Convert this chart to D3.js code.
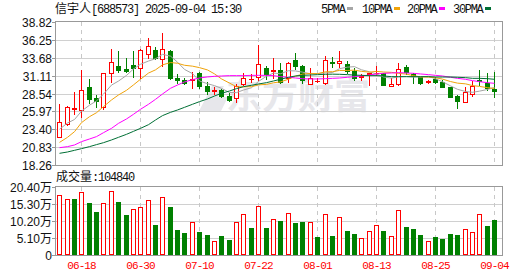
<!DOCTYPE html>
<html><head><meta charset="utf-8">
<script src="https://cdn.jsdelivr.net/npm/d3@7"></script>
<style>body{margin:0;background:#fff}svg{display:block}</style>
</head><body>
<svg id="c" width="530" height="276"></svg>
<script>
const dates = ["06-13","06-16","06-17","06-18","06-19","06-20","06-23","06-24","06-25","06-26",
"06-27","06-30","07-01","07-02","07-03","07-04","07-07","07-08","07-09","07-10",
"07-11","07-14","07-15","07-16","07-17","07-18","07-21","07-22","07-23","07-24",
"07-25","07-28","07-29","07-30","07-31","08-01","08-04","08-05","08-06","08-07",
"08-08","08-11","08-12","08-13","08-14","08-15","08-18","08-19","08-20","08-21",
"08-22","08-25","08-26","08-27","08-28","08-29","09-01","09-02","09-03","09-04"];
const opens = [22.24,24.11,26.27,26.16,29.47,27.89,26.65,31.44,32.45,32.07,
32.64,32.16,34.17,34.8,33.45,34.65,30.82,30.48,30.48,31.44,
29.61,28.95,29.05,28.18,27.84,29.86,30.6,30.86,32.16,31.78,
31.92,30.72,33.36,32.5,29.86,30.29,30.0,33.12,32.88,32.78,
31.83,30.86,31.29,31.44,31.44,29.6,29.86,32.4,31.34,30.86,
30.14,30.62,30.24,29.43,28.18,27.27,28.42,30.55,30.1,29.14];
const highs = [27.03,26.75,28.75,31.9,30.57,28.27,31.5,34.94,34.65,33.64,
34.65,34.94,36.47,35.18,37.29,34.8,31.29,30.72,31.59,31.6,
30.15,29.52,29.14,28.57,29.9,31.54,31.3,35.5,32.5,33.69,
32.97,33.02,34.41,32.64,32.16,30.72,33.93,33.74,34.65,33.26,
32.16,31.29,31.5,32.5,31.54,30.72,32.98,32.64,31.44,30.96,
30.43,30.86,30.48,29.52,28.33,29.52,30.33,31.92,31.44,31.68];
const lows = [22.24,23.96,25.59,25.21,27.13,26.65,26.27,30.24,31.68,31.68,
30.96,30.72,33.6,33.45,32.5,30.62,30.09,29.86,29.37,29.3,
28.46,28.42,27.99,27.46,27.27,29.76,30.2,30.48,30.57,30.72,
30.0,30.24,32.02,30.0,29.86,30.14,29.9,32.4,32.4,31.44,
30.48,30.52,29.76,31.2,29.76,29.6,29.71,31.34,30.0,29.86,
30.0,30.0,29.52,27.99,26.41,27.27,28.23,29.76,29.04,28.09];
const closes = [24.44,26.6,26.5,29.03,27.75,27.51,31.44,33.02,31.92,31.83,
32.16,34.75,35.37,33.6,34.99,30.82,30.48,30.1,30.62,29.66,
28.9,29.05,28.18,27.61,29.61,30.75,30.68,32.73,31.34,31.92,
30.24,32.88,32.54,30.48,30.72,30.38,33.36,32.88,33.22,31.83,
30.72,31.1,31.44,31.54,29.8,29.88,32.02,31.68,31.06,30.0,
30.33,30.24,29.52,28.09,27.51,28.8,29.61,30.4,29.28,28.9];
const volumes = [18.0,16.8,16.9,18.9,15.6,13.0,15.6,19.2,16.0,12.1,
13.8,14.4,16.5,9.1,17.4,14.5,7.5,6.6,9.9,6.9,
6.0,4.1,5.7,4.5,9.9,12.3,8.1,14.7,8.1,10.8,
10.3,12.6,9.7,10.0,9.9,5.4,12.3,5.7,11.4,7.2,
6.3,5.0,7.1,9.0,7.2,5.6,13.5,8.45,7.8,6.0,
4.1,5.4,4.8,6.3,6.0,7.7,6.8,12.3,8.75,10.484];
const ma5 = [23.4,24.3,24.8,26.0,26.86,27.48,28.45,29.75,30.33,31.14,
32.07,32.74,33.21,33.54,34.17,33.91,33.05,32.0,31.4,30.34,
29.95,29.67,29.28,28.68,28.67,29.04,29.37,30.28,31.02,31.48,
31.38,31.82,31.78,31.61,31.37,31.4,31.5,31.56,32.11,32.33,
32.4,31.95,31.66,31.33,30.92,30.75,30.94,30.98,30.89,30.93,
31.02,30.66,30.23,29.64,29.14,28.83,28.71,28.88,29.12,29.4];
const ma10 = [21.51,22.24,23.05,24.35,25.21,25.78,26.65,27.61,28.33,29.0,
29.78,30.59,31.48,31.94,32.66,32.99,32.89,32.6,32.47,32.26,
31.93,31.36,30.64,30.04,29.5,29.5,29.52,29.78,29.85,30.08,
30.21,30.59,31.03,31.32,31.43,31.39,31.66,31.67,31.86,31.85,
31.9,31.72,31.61,31.72,31.63,31.58,31.44,31.32,31.11,30.92,
30.89,30.8,30.61,30.26,30.03,29.93,29.68,29.56,29.38,29.27];
const ma20 = [20.75,20.90,21.14,21.62,22.0,22.34,22.91,23.53,24.25,24.88,
25.55,26.27,26.99,27.70,28.47,29.29,29.76,30.20,30.53,30.77,
30.92,31.01,31.06,31.11,31.11,31.11,31.15,31.15,31.15,31.11,
30.96,30.87,30.77,30.67,30.63,30.63,30.67,30.72,30.77,30.87,
30.96,31.06,31.20,31.35,31.44,31.49,31.54,31.49,31.44,31.35,
31.25,31.15,31.06,30.87,30.72,30.58,30.39,30.24,30.10,30.0];
const ma30 = [19.94,20.13,20.37,20.61,20.90,21.19,21.47,21.86,22.24,22.67,
23.10,23.53,24.06,24.73,25.36,25.83,26.17,26.55,26.99,27.37,
27.75,28.18,28.57,28.90,29.24,29.52,29.72,29.91,30.10,30.34,
30.58,30.87,31.06,31.15,31.20,31.25,31.30,31.32,31.30,31.25,
31.18,31.15,31.11,31.11,31.06,30.96,30.96,30.96,30.96,30.96,
30.96,30.91,30.91,30.91,30.87,30.82,30.72,30.72,30.67,30.58];
const priceTicks = [38.82,36.25,33.68,31.11,28.54,25.97,23.40,20.83,18.26];
const volTicks = [20.4,15.3,10.2,5.1,0];
const xTickDates = ["06-18","06-30","07-10","07-22","08-01","08-13","08-25","09-04"];
const maNames = ["5PMA","10PMA","20PMA","30PMA"];
const maColors = ["#a6a6a6","#f0a30a","#ff00ff","#006f35"];
const titleName = "信宇人";
const titleRest = "[688573] 2025-09-04 15:30";

const RED = "#ff0000", GREEN = "#008000";
const L = 55, R = 502;
const svg = d3.select("#c");
const x = d3.scaleBand().domain(dates).range([56, 498.2]);
const cx = d => Math.floor(x(d) + x.bandwidth() / 2);
const y = d3.scaleLinear().domain([18.26, 38.82]).range([165, 22]);
const yv = d3.scaleLinear().domain([0, 20.4]).range([255, 187]);
const mono = "'Liberation Mono','DejaVu Sans Mono',monospace";
const cjk = "'Noto Sans CJK SC',sans-serif";

// watermark
const wm = svg.append("g").attr("fill", "#e7e7eb");
wm.append("path").attr("d", "M199,111 L212,86 L224,86 L218,97 L228,97 L221,111 Z");
wm.append("text").attr("x", 226).attr("y", 109).attr("font-family", cjk)
  .attr("font-size", 36).attr("font-weight", 700).text("东方财富");

// grids
const grid = svg.append("g").attr("shape-rendering", "crispEdges");
priceTicks.slice(1, -1).forEach(t => {
  const yy = Math.round(y(t)) + 0.5;
  grid.append("line").attr("x1", L).attr("x2", R).attr("y1", yy).attr("y2", yy).attr("stroke", "#d0d0d0");
});
volTicks.slice(1, -1).forEach(t => {
  const yy = Math.round(yv(t)) + 0.5;
  grid.append("line").attr("x1", L).attr("x2", R).attr("y1", yy).attr("y2", yy).attr("stroke", "#d0d0d0");
});
xTickDates.forEach(d => {
  const xx = cx(d) + 0.5;
  [[22, 165], [187, 255]].forEach(([a, b]) =>
    grid.append("line").attr("x1", xx).attr("x2", xx).attr("y1", a).attr("y2", b)
      .attr("stroke", "#c8c8c8").attr("stroke-dasharray", "4,4"));
});

// candles
const cg = svg.append("g").attr("shape-rendering", "crispEdges");
dates.forEach((d, i) => {
  const o = opens[i], c = closes[i], h = highs[i], l = lows[i];
  const up = c >= o, col = up ? RED : GREEN, px = cx(d);
  cg.append("line").attr("x1", px + 0.5).attr("x2", px + 0.5)
    .attr("y1", Math.round(y(h))).attr("y2", Math.round(y(l)) + 1).attr("stroke", col);
  const top = Math.round(y(Math.max(o, c))), bot = Math.round(y(Math.min(o, c)));
  if (bot - top < 1) {
    cg.append("line").attr("x1", px - 2).attr("x2", px + 3).attr("y1", top + 0.5).attr("y2", top + 0.5).attr("stroke", col);
  } else if (up) {
    cg.append("rect").attr("x", px - 1.5).attr("y", top + 0.5).attr("width", 4).attr("height", bot - top)
      .attr("fill", "#fff").attr("stroke", col);
  } else {
    cg.append("rect").attr("x", px - 2).attr("y", top).attr("width", 5).attr("height", bot - top + 1).attr("fill", col);
  }
});

// MA lines
[ma5, ma10, ma20, ma30].forEach((arr, k) => {
  svg.append("path").datum(arr)
    .attr("d", d3.line().x((v, i) => cx(dates[i]) + 0.5).y(v => y(v)))
    .attr("fill", "none").attr("stroke", maColors[k]).attr("stroke-width", 1);
});

// volume bars (colour by close vs previous close)
const vg = svg.append("g").attr("shape-rendering", "crispEdges");
dates.forEach((d, i) => {
  const up = i === 0 ? closes[i] >= opens[i] : closes[i] >= closes[i - 1];
  const px = cx(d), top = Math.round(yv(volumes[i])), base = Math.round(yv(0));
  if (up) vg.append("rect").attr("x", px - 1.5).attr("y", top + 0.5).attr("width", 4).attr("height", base - top - 1)
      .attr("fill", "#fff").attr("stroke", RED);
  else vg.append("rect").attr("x", px - 2).attr("y", top).attr("width", 5).attr("height", base - top).attr("fill", GREEN);
});

// frames
const fr = svg.append("g").attr("shape-rendering", "crispEdges").attr("fill", "none").attr("stroke", "#999");
fr.append("rect").attr("x", L + 0.5).attr("y", 21.5).attr("width", R - L).attr("height", 144);
fr.append("rect").attr("x", L + 0.5).attr("y", 186.5).attr("width", R - L).attr("height", 69);

// y axes
const ax = svg.append("g").attr("font-family", "'Liberation Sans',Arial,sans-serif").attr("font-size", 12).attr("fill", "#111");
priceTicks.forEach(t => {
  const yy = Math.round(y(t)) + 0.5;
  ax.append("line").attr("x1", 52).attr("x2", 55).attr("y1", yy).attr("y2", yy).attr("stroke", "#999").attr("shape-rendering", "crispEdges");
  ax.append("text").attr("x", 52).attr("y", yy + 4.5).attr("text-anchor", "end").text(t.toFixed(2));
});
volTicks.forEach(t => {
  const yy = Math.round(yv(t)) + 0.5;
  ax.append("line").attr("x1", 52).attr("x2", 55).attr("y1", yy).attr("y2", yy).attr("stroke", "#999").attr("shape-rendering", "crispEdges");
  const tx = ax.append("text").attr("x", 52).attr("y", yy + 4.5).attr("text-anchor", "end");
  if (t === 0) tx.text("0");
  else { tx.append("tspan").text(t.toFixed(2)); tx.append("tspan").attr("font-family", cjk).text("万"); }
});

// x labels
xTickDates.forEach(d => {
  svg.append("text").attr("x", cx(d) + 0.5).attr("y", 269).attr("text-anchor", "middle")
    .attr("font-family", mono).attr("font-size", 11).attr("letter-spacing", "-0.9px")
    .attr("fill", RED).text(d);
});

// title
const tt = svg.append("text").attr("x", 55).attr("y", 13).attr("fill", "#111").attr("font-size", 12);
tt.append("tspan").attr("font-family", cjk).text(titleName);
tt.append("tspan").attr("font-family", mono).attr("letter-spacing", "-1.2px").text(titleRest);

// legend
const lx = [321, 362, 407, 453];
maNames.forEach((n, k) => {
  svg.append("text").attr("x", lx[k]).attr("y", 13).attr("font-family", mono).attr("font-size", 12)
    .attr("letter-spacing", "-1.3px").attr("fill", "#111").text(n);
  const w = n.length * 6 - 1;
  svg.append("rect").attr("x", lx[k] + w + 3).attr("y", 7).attr("width", 6).attr("height", 3).attr("fill", maColors[k]);
});

// volume caption
const vt = svg.append("text").attr("x", 56).attr("y", 181).attr("fill", "#111").attr("font-size", 12);
vt.append("tspan").attr("font-family", cjk).text("成交量");
vt.append("tspan").attr("font-family", mono).attr("letter-spacing", "-1.2px")
  .text(":" + Math.round(volumes[volumes.length - 1] * 10000));
</script>
</body></html>
